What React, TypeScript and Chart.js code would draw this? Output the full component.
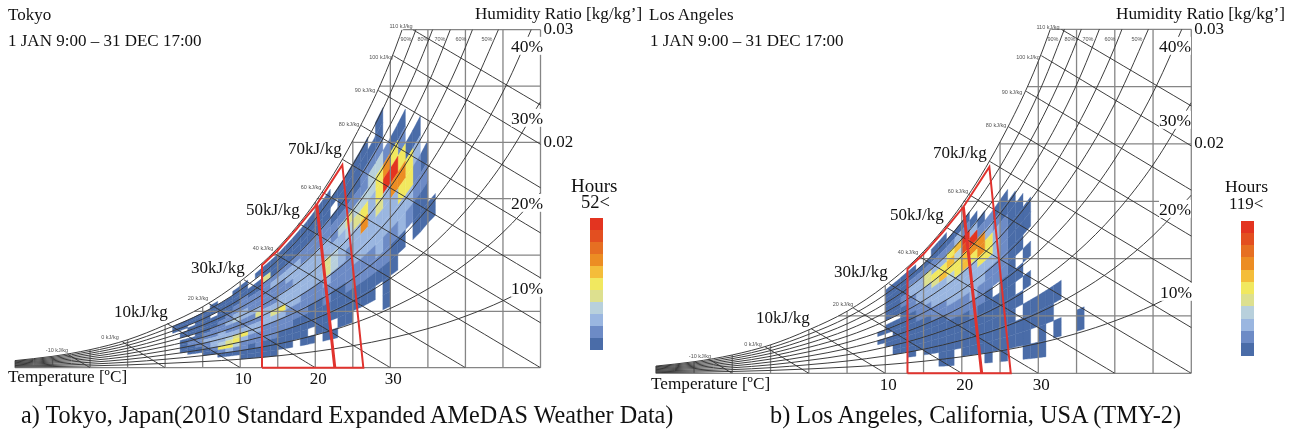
import React, { useEffect, useRef } from "react";
import { Chart, registerables } from "chart.js";

Chart.register(...registerables);

const SERIF = "'Liberation Serif', serif";
const SANS = "'Liberation Sans', sans-serif";

// ---- heat map: hours level per (temperature column, RH band) ----
const rhBands = [5, 10, 15, 20, 25, 30, 35, 40, 45, 50, 55, 60, 65, 70, 75, 80, 85, 90];
const levelColors = ["#4a6ca8", "#6d8bc6", "#9ab6e0", "#b8d0dc", "#dde08f", "#f1e85f", "#f4bd3a", "#ec8d23", "#e66f22", "#e34f20", "#e33420"];

const tokyoFirstT = 1;
const tokyoLevels = [
  [0,0,0,0,0,0,0,0,0,0,0,0,0,0,1,1,1,0],
  [0,0,0,0,0,1,1,1,1,1,0,1,1,0,1,1,1,0],
  [0,0,0,0,1,1,1,2,2,1,0,1,1,1,0,1,1,0],
  [0,0,0,0,1,1,2,2,2,1,1,1,1,1,1,1,1,0],
  [0,0,0,1,1,2,2,3,2,2,1,1,1,1,1,1,1,0],
  [0,0,0,1,2,3,3,3,2,2,2,1,1,1,0,1,1,1],
  [0,0,1,2,6,4,3,3,3,2,2,2,1,1,1,1,1,0],
  [0,0,1,3,6,5,4,3,2,2,3,2,2,1,1,1,1,0],
  [0,0,1,2,4,6,5,3,2,2,4,3,2,2,1,1,1,1],
  [0,1,1,2,2,3,6,3,2,2,3,3,2,2,2,1,1,1],
  [0,1,1,1,2,2,3,3,2,2,3,2,2,2,1,1,0,0],
  [0,1,1,2,2,2,3,3,2,5,3,2,2,2,1,1,0,1],
  [0,1,1,1,2,2,2,3,3,3,2,2,2,2,2,5,1,1],
  [0,1,1,1,2,2,2,3,5,3,2,2,2,3,2,1,1,1],
  [0,0,1,1,1,2,2,3,6,3,3,2,2,3,2,1,1,1],
  [0,0,1,1,1,2,2,2,3,3,3,2,3,3,2,1,1,1],
  [0,0,0,1,1,1,2,2,3,3,3,3,3,3,2,1,1,1],
  [0,0,1,1,1,1,2,2,2,3,3,3,3,2,2,1,1,1],
  [0,0,1,0,1,1,1,2,2,3,3,3,3,2,2,1,1,1],
  [0,0,0,1,1,1,1,2,2,3,3,3,3,2,2,1,1,1],
  [0,0,1,1,1,1,2,2,3,5,5,3,3,2,2,1,1,1],
  [0,0,1,0,1,1,1,2,2,4,4,3,2,2,1,0,1,0],
  [0,0,0,1,1,1,1,2,2,3,3,3,4,2,1,1,1,0],
  [0,0,0,1,1,1,2,2,2,2,3,4,5,2,1,1,1,0],
  [0,0,0,0,1,1,2,2,3,3,3,5,4,2,1,1,1,0],
  [0,0,0,0,1,1,2,2,3,3,8,6,4,2,2,1,1,0],
  [0,0,0,0,1,1,2,2,3,3,3,3,4,4,2,1,0,0],
  [0,0,0,0,0,1,2,3,3,3,5,6,6,4,2,1,1,0],
  [0,0,0,1,1,1,2,2,3,3,3,11,8,2,0,0,0,0],
  [0,0,0,0,0,1,1,2,3,3,8,11,6,1,0,0,0,0],
  [0,0,0,0,0,0,1,3,3,6,8,6,2,1,0,0,0,0],
  [0,0,0,0,0,0,0,2,3,6,6,1,0,0,0,0,0,0],
  [0,0,0,0,0,0,1,1,2,2,3,1,0,0,0,0,0,0],
  [0,0,0,0,0,0,1,1,2,1,0,0,0,0,0,0,0,0],
  [0,0,0,0,0,0,1,0,0,0,0,0,0,0,0,0,0,0],
];

const laFirstT = 9;
const laLevels = [
  [0,0,0,0,0,0,1,0,1,0,0,0,0,0,0,0,0,0],
  [0,0,0,0,0,1,1,0,1,1,0,1,1,1,1,1,1,1],
  [0,0,0,1,1,1,1,1,1,1,0,1,1,1,1,1,1,1],
  [0,0,0,1,1,1,1,1,1,1,1,1,2,2,1,1,1,1],
  [0,0,1,1,1,1,1,1,1,1,2,2,2,3,3,2,1,1],
  [0,0,0,1,1,1,1,1,2,2,2,3,3,3,3,2,1,0],
  [0,0,1,1,1,1,1,1,2,2,3,3,3,5,5,2,1,0],
  [0,0,1,1,1,1,1,2,2,3,3,3,5,6,3,2,1,1],
  [1,1,1,1,1,1,1,2,2,3,3,3,7,6,3,2,1,1],
  [1,1,1,1,1,1,2,2,3,3,3,4,6,7,6,2,1,0],
  [0,0,1,1,1,1,2,2,3,3,3,6,6,4,7,3,1,0],
  [0,1,1,1,1,1,2,2,3,3,3,7,7,10,11,2,1,0],
  [0,1,1,1,1,2,2,3,3,3,3,6,8,11,3,1,0,0],
  [0,1,1,1,1,1,2,2,3,3,6,8,8,2,1,0,0,0],
  [1,1,1,1,1,1,1,2,2,3,6,6,3,2,0,0,0,0],
  [0,1,1,1,1,1,0,2,2,3,3,3,2,1,0,0,0,0],
  [1,1,1,1,1,1,1,2,2,2,2,2,1,1,0,0,0,0],
  [0,1,1,1,1,1,1,1,1,1,1,1,1,0,0,0,0,0],
  [0,1,1,0,1,0,1,0,1,1,1,1,0,0,0,0,0,0],
  [1,1,1,1,0,1,0,1,0,1,1,0,0,0,0,0,0,0],
  [1,0,1,1,0,0,0,0,0,0,0,0,0,0,0,0,0,0],
  [1,1,1,1,0,0,0,0,0,0,0,0,0,0,0,0,0,0],
  [0,0,1,1,0,0,0,0,0,0,0,0,0,0,0,0,0,0],
  [0,1,0,1,0,0,0,0,0,0,0,0,0,0,0,0,0,0],
  [0,0,0,0,0,0,0,0,0,0,0,0,0,0,0,0,0,0],
  [0,0,0,0,0,0,0,0,0,0,0,0,0,0,0,0,0,0],
  [0,1,0,0,0,0,0,0,0,0,0,0,0,0,0,0,0,0],
];

// saturation humidity ratio, one per degree from 0 C (the chart's own "y position of 100 %")
const saturationPerDegree = [.00379,.00407,.00438,.0047,.00505,.00541,.0058,.00621,.00666,.00713,.00763,.00819,.00877,.00938,.00997,.01062,.01136,.01212,.01293,.01378,.0147,.01566,.01668,.01775,.01887,.02016,.02139,.02274,.02415,.02565,.02722,.02887,.03061,.03245,.03439,.03671,.03868,.04102];

// ---- psychrometric frame ----
const gridTemps = [-20,-15,-10,-5,0,5,10,15,20,25,30,35,40,45,50];
const gridTempTops = [.00063,.00101,.0016,.00248,.00379,.00541,.00766,.01062,.0147,.02017,.02721,.03,.03,.03,.03];
const gridHumidity = [0,.005,.01,.015,.02,.025,.03];
const gridHumidityStart = [-20,3.9,14.1,20.2,25,28.6,31.7];

const rhTemps = [-20,-15,-10,-5,0,5,10,15,20,25,30,35,40,45,50];
const rhCurves = [
  [.00063,.00101,.0016,.00248,.00379,.00541,.00766,.01062,.0147,.02017,.02721,.0367],
  [.00057,.00091,.00144,.00223,.0034,.00486,.00688,.00954,.01319,.01801,.02438,.03273],
  [.00051,.00081,.00128,.00198,.00302,.00431,.00609,.00849,.0117,.01596,.02158,.02892,.03851],
  [.00044,.00071,.00112,.00173,.00263,.00377,.00532,.00741,.01021,.01392,.0188,.02516,.03344],
  [.00038,.00061,.00096,.00148,.00226,.00323,.00456,.00634,.00873,.01189,.01604,.02144,.02844,.03746],
  [.00032,.00051,.0008,.00124,.00188,.00269,.00379,.00528,.00727,.00988,.01331,.01777,.02352,.03091],
  [.00025,.00041,.00064,.00099,.0015,.00215,.00303,.00421,.0058,.00788,.0106,.01413,.01868,.02448,.03188],
  [.00019,.0003,.00048,.00074,.00113,.00161,.00227,.00315,.00434,.00589,.00792,.01054,.0139,.01818,.02361],
  [.00013,.0002,.00032,.00049,.00075,.00107,.00151,.0021,.00289,.00392,.00526,.00699,.0092,.01201,.01554],
  [.00006,.0001,.00016,.00025,.00038,.00054,.00075,.00105,.00144,.00195,.00261,.00347,.00457,.00594,.00767],
];

const enthalpyValues = [-10,0,10,20,30,40,50,60,70,80,90,100,110];
const enthalpyStartT = [-13,-5.7,.3,5.8,10.5,14.4,17.8,20.9,23.6,26.1,28.4,30.4,33];
const enthalpyStartW = [.0012,.0023,.0039,.0057,.0078,.0102,.0128,.0156,.0185,.0215,.0246,.0277,.03];
const enthalpyEndT = [-10,0,10,20,30,40,50,60,70,80,90,99.4,109.3];

// comfort zone outlines
const zoneOuterT = [12.9,12.9,15,17.5,20.2,23.6,26.4,12.9];
const zoneOuterW = [0,.0091,.0104,.0123,.0145,.018,0,0];
const zoneInnerT = [20.2,22.6];
const zoneInnerW = [.0145,0];

const tempTicks = [10,20,30];
const humidityTicks = [.02,.03];

type TextItem = [string, number, number, number, string?];

const pair = (xs: number[], ys: number[]) => ys.map((y, i) => ({ x: xs[i], y }));

// a tiny tension keeps Chart.js off its column-merging fast path, which breaks shapes that double back
const EXACT = 0.0001;

function buildDatasets(firstT: number, levels: number[][]) {
  const sets: any[] = [];
  levels.forEach((col, c) => {
    const t = firstT + c;
    col.forEach((lvl, b) => {
      if (!lvl) return;
      const lo = rhBands[b] / 100, hi = lo + 0.05;
      const sL = saturationPerDegree[t], sR = saturationPerDegree[t + 1];
      const color = levelColors[lvl - 1];
      sets.push({
        data: [{ x: t, y: sL * lo }, { x: t + 1, y: sR * lo }, { x: t + 1, y: sR * hi }, { x: t, y: sL * hi }, { x: t, y: sL * lo }],
        backgroundColor: color, borderColor: color, borderWidth: 0.4, fill: "shape", order: 5, tension: EXACT,
      });
    });
  });
  const gray = "#858585";
  gridTemps.forEach((t, i) => sets.push({ data: [{ x: t, y: 0 }, { x: t, y: gridTempTops[i] }], borderColor: gray, borderWidth: 1.3, order: 4, clip: 2, tension: EXACT }));
  gridHumidity.forEach((w, i) => sets.push({ data: [{ x: gridHumidityStart[i], y: w }, { x: 50, y: w }], borderColor: gray, borderWidth: 1.3, order: 4, clip: 2, tension: EXACT }));
  rhCurves.forEach((c) => sets.push({ data: pair(rhTemps, c), borderColor: "#333", borderWidth: 0.95, cubicInterpolationMode: "monotone", order: 3 }));
  enthalpyValues.forEach((_, i) => sets.push({ data: [{ x: enthalpyStartT[i], y: enthalpyStartW[i] }, { x: enthalpyEndT[i], y: 0 }], borderColor: "#333", borderWidth: 0.95, order: 3, tension: EXACT }));
  sets.push({ data: pair(zoneOuterT, zoneOuterW), borderColor: "#e0332e", borderWidth: 2, order: 1, clip: 2, tension: EXACT });
  sets.push({ data: pair(zoneInnerT, zoneInnerW), borderColor: "#e0332e", borderWidth: 3, order: 1, clip: 2, tension: EXACT });
  return sets;
}

function Panel(p: { left: number; width: number; plotLeft: number; plotRight: number; top: number; bottom: number; firstT: number; levels: number[][]; tickOffset: number; tickPad: number }) {
  const ref = useRef<HTMLCanvasElement>(null);
  useEffect(() => {
    const chart = new Chart(ref.current!, {
      type: "scatter",
      data: { datasets: buildDatasets(p.firstT, p.levels) },
      options: {
        animation: false, responsive: false,
        layout: { padding: { left: p.plotLeft - p.left, top: p.top, right: 0, bottom: 0 } },
        plugins: { legend: { display: false }, tooltip: { enabled: false }, title: { display: false } },
        elements: { point: { radius: 0 }, line: { tension: 0 } },
        datasets: { scatter: { showLine: true, clip: 0 } },
        scales: {
          x: {
            type: "linear", min: -20, max: 50, position: "bottom",
            grid: { display: false, drawTicks: false, tickLength: 0 }, border: { display: false },
            afterBuildTicks: (s: any) => { s.ticks = tempTicks.map((value) => ({ value })); },
            afterFit: (s: any) => { s.height = 432 - p.bottom; },
            ticks: { autoSkip: false, maxRotation: 0, color: "#111", padding: p.tickPad, labelOffset: p.tickOffset, font: { family: SERIF, size: 17 }, callback: (v: any) => String(v) },
          },
          y: {
            type: "linear", min: 0, max: 0.03, position: "right",
            grid: { display: false, drawTicks: false, tickLength: 0 }, border: { display: false },
            afterBuildTicks: (s: any) => { s.ticks = humidityTicks.map((value) => ({ value })); },
            afterFit: (s: any) => { s.width = p.left + p.width - p.plotRight; },
            ticks: { color: "#111", padding: 3, font: { family: SERIF, size: 17 }, callback: (v: any) => Number(v).toFixed(2) },
          },
        },
      } as any,
    });
    return () => chart.destroy();
  }, []);
  return <canvas ref={ref} width={p.width} height={432} style={{ position: "absolute", left: p.left, top: 0, width: p.width, height: 432 }} />;
}

// [text, left, centre y, font size, style]
const bigTexts: TextItem[] = [
  ["Tokyo", 8, 15, 17], ["1 JAN 9:00 – 31 DEC 17:00", 8, 41, 17],
  ["Humidity Ratio [kg/kg’]", 475, 14, 17.1],
  ["40%", 511, 46, 17.5, "w"], ["30%", 511, 118, 17.5, "w"], ["20%", 511, 203, 17.5, "w"], ["10%", 511, 288, 17.5, "w"],
  ["70kJ/kg", 288, 149, 17], ["50kJ/kg", 246, 210, 17], ["30kJ/kg", 191, 268, 17], ["10kJ/kg", 114, 312, 17],
  ["Temperature [ºC]", 8, 377, 17.2],
  ["Hours", 571, 186, 19], ["52<", 581, 203, 18.5],
  ["a) Tokyo, Japan(2010 Standard Expanded AMeDAS Weather Data)", 21, 415, 24.2],
  ["Los Angeles", 649, 15, 17], ["1 JAN 9:00 – 31 DEC 17:00", 650, 41, 17],
  ["Humidity Ratio [kg/kg’]", 1116, 14, 17.3],
  ["40%", 1159, 46, 17.5, "w"], ["30%", 1159, 120, 17.5, "w"], ["20%", 1159, 209, 17.5, "w"], ["10%", 1160, 292, 17.5, "w"],
  ["70kJ/kg", 933, 153, 17], ["50kJ/kg", 890, 215, 17], ["30kJ/kg", 834, 272, 17], ["10kJ/kg", 756, 318, 17],
  ["Temperature [ºC]", 651, 384, 17.2],
  ["Hours", 1225, 186, 17.6], ["119<", 1229, 204, 17],
  ["b) Los Angeles, California, USA (TMY-2)", 770, 415, 24.3],
];
// [text, centre x, centre y]
const smallTexts: [string, number, number][] = [
  ["110 kJ/kg", 401, 26], ["100 kJ/kg", 381, 57], ["90 kJ/kg", 365, 90], ["80 kJ/kg", 349, 124], ["60 kJ/kg", 311, 187], ["40 kJ/kg", 263, 248], ["20 kJ/kg", 198, 298], ["0 kJ/kg", 110, 337], ["-10 kJ/kg", 57, 350],
  ["90%", 406, 39], ["80%", 423, 39], ["70%", 440, 39], ["60%", 461, 39], ["50%", 487, 39],
  ["110 kJ/kg", 1048, 27], ["100 kJ/kg", 1028, 57], ["90 kJ/kg", 1012, 92], ["80 kJ/kg", 996, 125], ["60 kJ/kg", 958, 191], ["40 kJ/kg", 908, 252], ["20 kJ/kg", 843, 304], ["0 kJ/kg", 753, 344], ["-10 kJ/kg", 700, 356],
  ["90%", 1053, 39], ["80%", 1070, 39], ["70%", 1088, 39], ["60%", 1110, 39], ["50%", 1137, 39],
];

function ColorBar({ left, top, stepH, width }: { left: number; top: number; stepH: number; width: number }) {
  return (
    <>
      {[...levelColors].reverse().map((c, i) => (
        <div key={c} style={{ position: "absolute", left, top: top + i * stepH, width, height: stepH + 0.5, background: c }} />
      ))}
    </>
  );
}

export default function App() {
  return (
    <div style={{ position: "absolute", left: 0, top: 0, width: 1296, height: 432, overflow: "hidden", background: "#fff", color: "#111" }}>
      <Panel left={0} width={648} plotLeft={15} plotRight={540.5} top={29.7} bottom={367.7} firstT={tokyoFirstT} levels={tokyoLevels} tickOffset={3} tickPad={2} />
      <Panel left={648} width={648} plotLeft={655.8} plotRight={1191.3} top={29.3} bottom={373.3} firstT={laFirstT} levels={laLevels} tickOffset={3} tickPad={2} />
      <ColorBar left={589.5} top={217.5} stepH={12} width={13} />
      <ColorBar left={1241} top={220.7} stepH={12.24} width={13} />
      {bigTexts.map(([t, x, y, s, w], i) => (
        <div key={i} style={{ position: "absolute", left: x, top: y, transform: "translateY(-50%)", fontFamily: SERIF, fontSize: s, lineHeight: 1.05, whiteSpace: "nowrap", background: w ? "#fff" : undefined }}>{t}</div>
      ))}
      {smallTexts.map(([t, x, y], i) => (
        <div key={i} style={{ position: "absolute", left: x, top: y, transform: "translate(-50%,-50%)", fontFamily: SANS, fontSize: 5.5, color: "#555", whiteSpace: "nowrap" }}>{t}</div>
      ))}
    </div>
  );
}
